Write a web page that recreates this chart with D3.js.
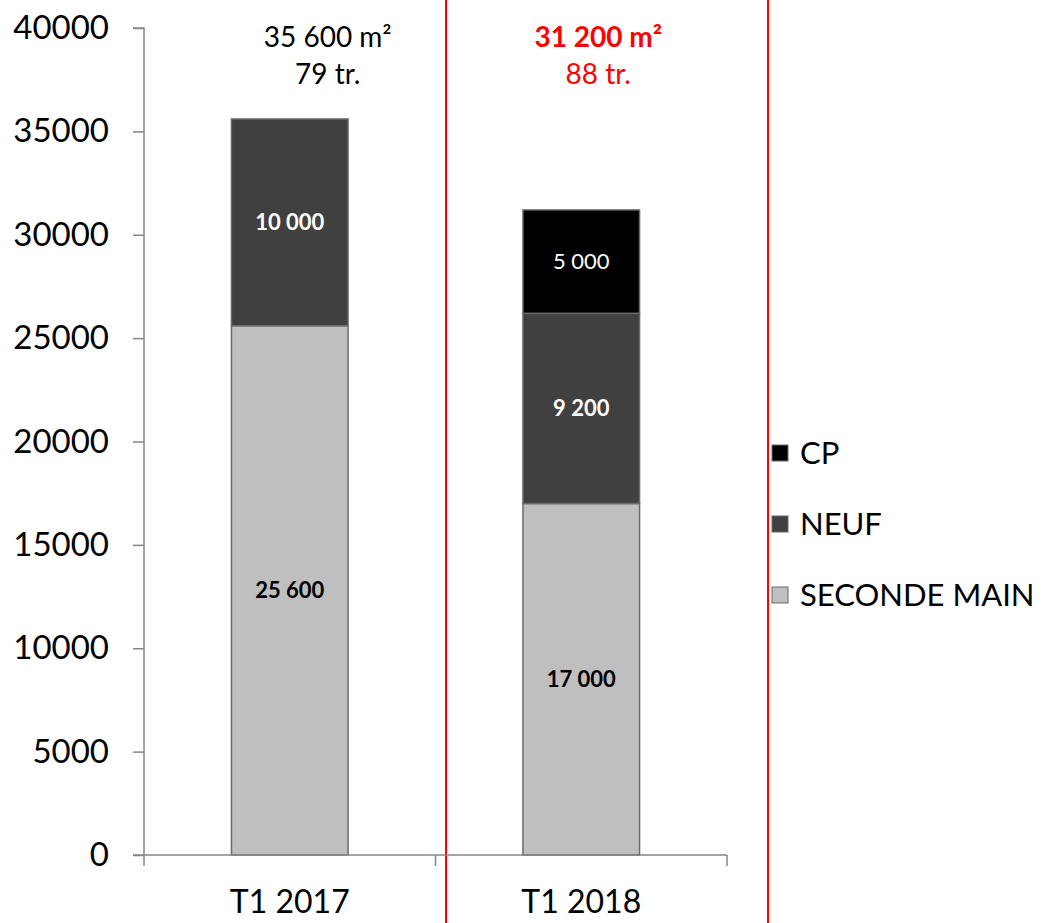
<!DOCTYPE html>
<html>
<head>
<meta charset="utf-8">
<script src="https://cdn.jsdelivr.net/npm/d3@7"></script>
<style>
  body { margin: 0; background: #fff; }
  svg text { font-family: Lato, "Open Sans", sans-serif; }
</style>
</head>
<body>
<div id="chart"></div>
<script>
// Data
const categories = ['T1 2017', 'T1 2018'];
const secondeMain = [25600, 17000];
const neuf = [10000, 9200];
const cp = [0, 5000];
const totalLabels = ['35 600 m²', '31 200 m²'];
const transLabels = ['79 tr.', '88 tr.'];
const yTicks = [0, 5000, 10000, 15000, 20000, 25000, 30000, 35000, 40000];

const seriesKeys = ['SECONDE MAIN', 'NEUF', 'CP'];
const seriesValues = { 'SECONDE MAIN': secondeMain, 'NEUF': neuf, 'CP': cp };
const fill = { 'SECONDE MAIN': '#bfbfbf', 'NEUF': '#404040', 'CP': '#000000' };
const labelColor = { 'SECONDE MAIN': '#000', 'NEUF': '#fff', 'CP': '#fff' };
const labelWeight = { 'SECONDE MAIN': 'bold', 'NEUF': 'bold', 'CP': 'normal' };

const W = 1044, H = 923;
const plot = { left: 144, right: 727, top: 28, bottom: 855 };

const rows = categories.map((c, i) => {
  const r = { cat: c };
  seriesKeys.forEach(k => r[k] = seriesValues[k][i]);
  return r;
});

const svg = d3.select('#chart').append('svg')
  .attr('width', W)
  .attr('height', H);

const x = d3.scaleBand()
  .domain(categories)
  .range([plot.left, plot.right])
  .paddingInner(0)
  .paddingOuter(0);

const barW = x.bandwidth() * 0.4;

const y = d3.scaleLinear()
  .domain([0, 40000])
  .range([plot.bottom, plot.top]);

// red highlight frame around 2018
svg.append('line')
  .attr('x1', 446).attr('x2', 446).attr('y1', 0).attr('y2', H)
  .attr('stroke', '#ff0000').attr('stroke-width', 2);
svg.append('line')
  .attr('x1', 768).attr('x2', 768).attr('y1', 0).attr('y2', H)
  .attr('stroke', '#ff0000').attr('stroke-width', 2);

// Stacked bars
const stack = d3.stack().keys(seriesKeys)(rows);

stack.forEach(layer => {
  const key = layer.key;
  const g = svg.append('g');
  layer.forEach(d => {
    const v = d[1] - d[0];
    if (v <= 0) return;
    const cx = x(d.data.cat) + x.bandwidth() / 2;
    g.append('rect')
      .attr('x', cx - barW / 2)
      .attr('y', y(d[1]))
      .attr('width', barW)
      .attr('height', y(d[0]) - y(d[1]))
      .attr('fill', fill[key])
      .attr('stroke', '#6a6a6a')
      .attr('stroke-width', 1.5);
    g.append('text')
      .attr('x', cx)
      .attr('y', (y(d[0]) + y(d[1])) / 2)
      .attr('dy', '0.35em')
      .attr('text-anchor', 'middle')
      .attr('fill', labelColor[key])
      .attr('font-weight', labelWeight[key])
      .attr('font-size', 22)
      .text(d3.format(',')(v).replace(/,/g, ' '));
  });
});

// Y axis
const yAxis = d3.axisLeft(y).tickValues(yTicks).tickSize(11).tickPadding(24)
  .tickFormat(d3.format('d'));
const yg = svg.append('g')
  .attr('transform', `translate(${plot.left},0)`)
  .call(yAxis);
yg.select('.domain').attr('stroke', '#868686').attr('stroke-width', 1.5)
  .attr('d', `M-11,${plot.top}H0V${plot.bottom}`);
yg.selectAll('.tick line').attr('stroke', '#868686').attr('stroke-width', 1.5);
yg.selectAll('.tick text').attr('font-size', 33).attr('fill', '#000')
  .style('font-family', 'Lato, sans-serif');

// X axis
const xg = svg.append('g')
  .attr('transform', `translate(0,${plot.bottom})`);
xg.append('line')
  .attr('x1', plot.left - 11).attr('x2', plot.right)
  .attr('stroke', '#868686').attr('stroke-width', 1.5);
const xTickPos = [plot.left].concat(categories.map(c => x(c) + x.bandwidth()));
xg.selectAll('.xtick').data(xTickPos).enter().append('line')
  .attr('x1', d => d).attr('x2', d => d)
  .attr('y1', 0).attr('y2', 11)
  .attr('stroke', '#868686').attr('stroke-width', 1.5);
xg.selectAll('.xlab').data(categories).enter().append('text')
  .attr('x', d => x(d) + x.bandwidth() / 2)
  .attr('y', 58)
  .attr('text-anchor', 'middle')
  .attr('font-size', 32)
  .text(d => d);

// Totals above bars
const offsets = [38, 17];
categories.forEach((c, i) => {
  const cx = x(c) + x.bandwidth() / 2 + offsets[i];
  const col = i === 1 ? '#ff0000' : '#000';
  svg.append('text')
    .attr('x', cx).attr('y', 47)
    .attr('text-anchor', 'middle')
    .attr('font-size', 28)
    .attr('font-weight', i === 1 ? 'bold' : 'normal')
    .attr('fill', col)
    .text(totalLabels[i]);
  svg.append('text')
    .attr('x', cx).attr('y', 84)
    .attr('text-anchor', 'middle')
    .attr('font-size', 28)
    .attr('fill', col)
    .text(transLabels[i]);
});

// Legend
const legendKeys = ['CP', 'NEUF', 'SECONDE MAIN'];
const legend = svg.selectAll('.legend').data(legendKeys).enter().append('g')
  .attr('transform', (d, i) => `translate(772,${453 + i * 71})`);
legend.append('rect')
  .attr('x', 0).attr('y', -8)
  .attr('width', 16).attr('height', 16)
  .attr('fill', d => fill[d])
  .attr('stroke', '#6a6a6a').attr('stroke-width', 1);
legend.append('text')
  .attr('x', 28).attr('y', 0).attr('dy', '0.35em')
  .attr('font-size', 31)
  .text(d => d);
</script>
</body>
</html>
